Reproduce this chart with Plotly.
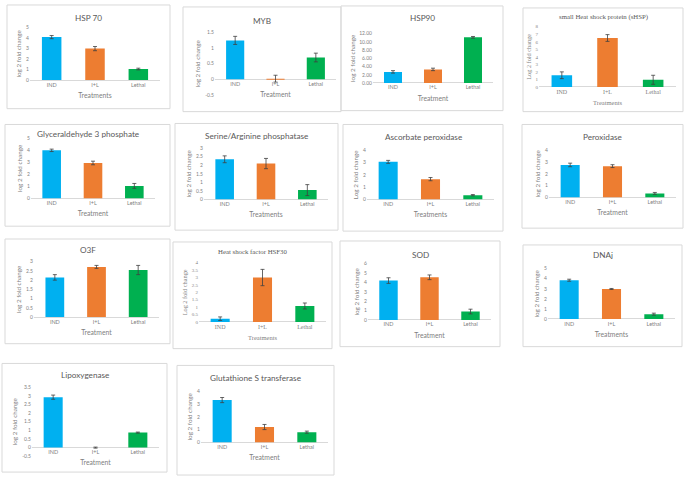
import plotly.graph_objects as go

W, H = 685, 480

categories = ["IND", "I+L", "Lethal"]
bar_colors = ["#00B0F0", "#ED7D31", "#00B050"]

# ---- data (log2 fold change, mean and error) ----
hsp70_vals = [4.1, 3.0, 1.05]
hsp70_err = [0.15, 0.2, 0.08]
myb_vals = [1.25, 0.02, 0.7]
myb_err = [0.13, 0.11, 0.14]
hsp90_vals = [2.7, 3.3, 11.1]
hsp90_err = [0.3, 0.3, 0.2]
shsp_vals = [1.55, 6.5, 0.95]
shsp_err = [0.45, 0.45, 0.6]
g3p_vals = [4.0, 2.95, 1.05]
g3p_err = [0.1, 0.15, 0.2]
serine_vals = [2.35, 2.1, 0.55]
serine_err = [0.2, 0.3, 0.32]
apx_vals = [3.05, 1.65, 0.35]
apx_err = [0.12, 0.13, 0.05]
pox_vals = [2.75, 2.65, 0.35]
pox_err = [0.15, 0.12, 0.08]
o3f_vals = [2.15, 2.72, 2.55]
o3f_err = [0.15, 0.08, 0.25]
hsf30_vals = [0.22, 3.0, 1.08]
hsf30_err = [0.12, 0.55, 0.2]
sod_vals = [4.2, 4.55, 0.9]
sod_err = [0.3, 0.25, 0.25]
dnaj_vals = [3.85, 2.98, 0.48]
dnaj_err = [0.1, 0.05, 0.1]
lox_vals = [2.92, 0.0, 0.87]
lox_err = [0.12, 0.03, 0.03]
gst_vals = [3.3, 1.2, 0.8]
gst_err = [0.2, 0.2, 0.08]

# ---- tick labels ----
ticks_0_5 = [0, 1, 2, 3, 4, 5]
ticks_myb = [-0.5, 0, 0.5, 1, 1.5]
ticks_hsp90 = [0, 2, 4, 6, 8, 10, 12]
ticks_hsp90_text = ["0.00", "2.00", "4.00", "6.00", "8.00", "10.00", "12.00"]
ticks_0_8 = [0, 1, 2, 3, 4, 5, 6, 7, 8]
ticks_0_3_half = [0, 0.5, 1, 1.5, 2, 2.5, 3]
ticks_0_4 = [0, 1, 2, 3, 4]
ticks_0_4_half = [0, 0.5, 1, 1.5, 2, 2.5, 3, 3.5, 4]
ticks_0_6 = [0, 1, 2, 3, 4, 5, 6]
ticks_lox = [-0.5, 0, 0.5, 1, 1.5, 2, 2.5, 3, 3.5]

SANS = "Lato, 'Open Sans', sans-serif"
SERIF = "'Liberation Serif', 'DejaVu Serif', serif"

# title, values, errors, ticks, ticktext, ytitle, xtitle, font
panels = [
    ("HSP 70", hsp70_vals, hsp70_err, ticks_0_5, None, "log 2 fold change", "Treatments", SANS),
    ("MYB", myb_vals, myb_err, ticks_myb, None, "log 2 fold change", "Treatment", SANS),
    ("HSP90", hsp90_vals, hsp90_err, ticks_hsp90, ticks_hsp90_text, "log 2 fold change", "Treatment", SANS),
    ("small Heat shock protein (sHSP)", shsp_vals, shsp_err, ticks_0_8, None, "Log 2 fold change", "Treatments", SERIF),
    ("Glyceraldehyde 3 phosphate", g3p_vals, g3p_err, ticks_0_5, None, "log 2 fold change", "Treatment", SANS),
    ("Serine/Arginine phosphatase", serine_vals, serine_err, ticks_0_3_half, None, "log 2 fold change", "Treatments", SANS),
    ("Ascorbate peroxidase", apx_vals, apx_err, ticks_0_4, None, "Log 2 fold change", "Treatments", SANS),
    ("Peroxidase", pox_vals, pox_err, ticks_0_4, None, "log 2 fold change", "Treatment", SANS),
    ("O3F", o3f_vals, o3f_err, ticks_0_3_half, None, "log 2 fold change", "Treatment", SANS),
    ("Heat shock factor HSF30", hsf30_vals, hsf30_err, ticks_0_4_half, None, "Log 2 fold change", "Treatments", SERIF),
    ("SOD", sod_vals, sod_err, ticks_0_6, None, "log 2 fold change", "Treatment", SANS),
    ("DNAj", dnaj_vals, dnaj_err, ticks_0_5, None, "log 2 fold change", "Treatments", SANS),
    ("Lipoxygenase", lox_vals, lox_err, ticks_lox, None, "log 2 fold change", "Treatment", SANS),
    ("Glutathione S transferase", gst_vals, gst_err, ticks_0_4, None, "log 2 fold change", "Treatment", SANS),
]

# layout geometry in pixels: box (x0,y0,x1,y1), plot x (left,right), plot y (top,bottom), title y
geometry = [
    ((7, 2, 170, 107), (30, 160), (25, 78), 15),
    ((183, 4, 341, 110), (215, 336), (30, 93), 18),
    ((341, 3, 503, 109), (373, 493), (31, 81), 15),
    ((523, 5, 683, 110), (539, 676), (24, 85), 14),
    ((5, 123, 170, 226), (31, 155), (137, 198), 133),
    ((175, 122, 338, 230), (204, 328), (147, 199), 135),
    ((343, 123, 503, 231), (367, 494), (149, 199), 136),
    ((522, 123, 683, 228), (549, 676), (149, 197), 136),
    ((5, 239, 170, 345), (34, 159), (262, 318), 250),
    ((173, 242, 332, 350), (199, 326), (263, 323), 252),
    ((340, 241, 500, 348), (368, 491), (264, 321), 255),
    ((523, 245, 682, 348), (548, 675), (269, 320), 255),
    ((2, 365, 167, 475), (32, 159), (389, 459), 377),
    ((177, 367, 334, 478), (201, 328), (393, 445), 380),
]

fig = go.Figure()
layout = dict(
    width=W, height=H, margin=dict(l=0, r=0, t=0, b=0),
    paper_bgcolor="white", plot_bgcolor="rgba(0,0,0,0)",
    showlegend=False, bargap=0.55,
    shapes=[], annotations=[],
)

for i, (panel, geo) in enumerate(zip(panels, geometry), start=1):
    title, vals, errs, ticks, ticktext, ytitle, xtitle, font = panel
    (bx0, by0, bx1, by1), (px0, px1), (pyt, pyb), ty = geo
    sfx = "" if i == 1 else str(i)
    ymin, ymax = ticks[0], ticks[-1]
    dy0, dy1 = 1 - pyb / H, 1 - pyt / H
    zero_pos = dy0 + (0 - ymin) / (ymax - ymin) * (dy1 - dy0)
    serif = font == SERIF

    fig.add_trace(go.Bar(
        x=categories, y=vals,
        marker=dict(color=bar_colors, line=dict(width=0)),
        error_y=dict(type="data", array=errs, color="#404040", thickness=0.8, width=2),
        xaxis="x" + sfx, yaxis="y" + sfx,
    ))

    layout["xaxis" + sfx] = dict(
        domain=[px0 / W, px1 / W], anchor="free", position=zero_pos,
        type="category", range=[-0.5, 2.5], showline=False, showgrid=False,
        zeroline=False, ticks="", fixedrange=True,
        tickfont=dict(family=font, size=6 if serif else 5.5, color="#7F7F7F"),
        title=dict(text=xtitle, font=dict(family=font, size=6.5 if serif else 6.8, color="#7F7F7F"),
                   standoff=6),
    )
    layout["yaxis" + sfx] = dict(
        domain=[dy0, dy1], anchor="x" + sfx, range=[ymin, ymax],
        tickvals=ticks, ticktext=ticktext if ticktext else [("%g" % t) for t in ticks],
        showline=False, showgrid=False, ticks="", fixedrange=True,
        zeroline=True, zerolinecolor="#D9D9D9", zerolinewidth=1,
        tickfont=dict(family=font, size=5, color="#7F7F7F"),
        title=dict(text=ytitle, font=dict(family=font, size=6.3, color="#7F7F7F"), standoff=3),
    )
    layout["shapes"].append(dict(
        type="rect", xref="paper", yref="paper",
        x0=bx0 / W, x1=bx1 / W, y0=1 - by1 / H, y1=1 - by0 / H,
        line=dict(color="#D9D9D9", width=1), fillcolor="rgba(0,0,0,0)", layer="below",
    ))
    layout["annotations"].append(dict(
        text=title, xref="paper", yref="paper",
        x=(bx0 + bx1) / 2 / W, y=1 - ty / H, xanchor="center", yanchor="middle",
        showarrow=False,
        font=dict(family=font, size=6.8 if serif else 8.2, color="#595959"),
    ))

fig.update_layout(**layout)
fig.write_html("out.html", config={"displayModeBar": False},
               post_script="document.body.style.margin='0px';")
